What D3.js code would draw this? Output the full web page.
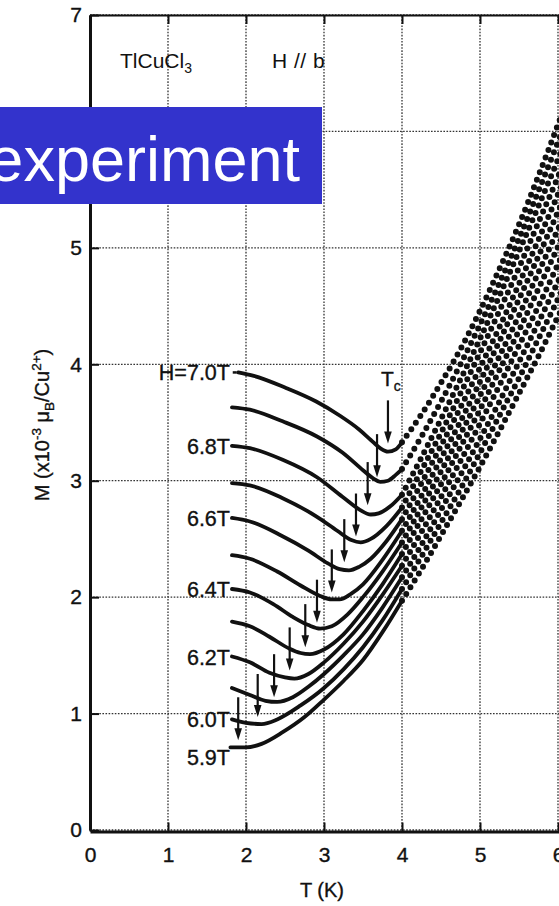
<!DOCTYPE html>
<html><head><meta charset="utf-8">
<script src="https://cdn.jsdelivr.net/npm/d3@7"></script>
<style>
body{margin:0;background:#fff;}
svg{display:block;}
text{font-family:"Liberation Sans",Arial,Helvetica,sans-serif;}
.lbl{stroke:#111;stroke-width:0.35px;}
</style>
</head><body>
<svg id="chart" width="559" height="906"></svg>
<script>
// ---------- DATA ----------
const fields = ["7.0","6.9","6.8","6.7","6.6","6.5","6.4","6.3","6.2","6.1","6.0","5.9"];
const fieldLabels = {"7.0":"H=7.0T","6.8":"6.8T","6.6":"6.6T","6.4":"6.4T","6.2":"6.2T","6.0":"6.0T","5.9":"5.9T"};

// low-temperature (dense, solid-looking) part of each curve
const lowT = [
  [1.9,2.1,2.5,2.9,3.2,3.45,3.6,3.72,3.82,3.92,4.0],
  [1.82,2.05,2.47,2.91,3.24,3.5,3.63,3.72,3.82,3.92,4.0],
  [1.82,2.05,2.47,2.91,3.24,3.46,3.6,3.7,3.85,4.0],
  [1.82,2.05,2.47,2.91,3.17,3.35,3.47,3.6,3.8,4.0],
  [1.82,2.05,2.45,2.8,3.05,3.2,3.32,3.45,3.6,3.8,4.0],
  [1.82,2.05,2.4,2.7,2.95,3.1,3.2,3.35,3.5,3.75,4.0],
  [1.82,2.05,2.35,2.6,2.8,2.95,3.1,3.3,3.5,3.75,4.0],
  [1.82,2.05,2.3,2.55,2.7,2.82,3.0,3.25,3.5,3.75,4.0],
  [1.82,2.05,2.3,2.5,2.62,2.8,3.0,3.25,3.5,3.75,4.0],
  [1.82,2.05,2.25,2.4,2.6,2.8,3.0,3.25,3.5,3.75,4.0],
  [1.82,2.0,2.2,2.4,2.7,3.0,3.25,3.5,3.75,4.0],
  [1.8,2.0,2.2,2.47,2.75,3.0,3.25,3.5,3.76,4.0]
];
const lowM = [
  [3.93,3.90,3.80,3.68,3.56,3.44,3.35,3.28,3.25,3.27,3.33],
  [3.63,3.61,3.51,3.38,3.24,3.09,3.02,2.99,3.00,3.05,3.10],
  [3.30,3.28,3.18,3.03,2.86,2.75,2.71,2.72,2.78,2.88],
  [2.98,2.96,2.85,2.69,2.57,2.49,2.47,2.50,2.61,2.77],
  [2.68,2.65,2.53,2.40,2.29,2.24,2.23,2.26,2.33,2.48,2.67],
  [2.36,2.33,2.22,2.10,2.01,1.98,1.98,2.03,2.11,2.32,2.57],
  [2.07,2.04,1.94,1.83,1.76,1.73,1.75,1.85,2.00,2.22,2.47],
  [1.79,1.75,1.66,1.56,1.52,1.51,1.55,1.68,1.88,2.11,2.37],
  [1.49,1.44,1.35,1.31,1.30,1.34,1.44,1.60,1.79,2.02,2.27],
  [1.22,1.16,1.11,1.10,1.14,1.23,1.34,1.50,1.68,1.91,2.17],
  [0.95,0.92,0.91,0.95,1.07,1.22,1.38,1.57,1.80,2.07],
  [0.71,0.71,0.74,0.84,0.97,1.12,1.28,1.46,1.71,1.97]
];

// high-temperature (sparse, dotted) part of each curve
const dotT = [4.0,4.25,4.5,4.75,5.0,5.25,5.5,5.75,6.0,6.25];
const dotM = [
  [3.33,3.57,3.84,4.13,4.46,4.82,5.20,5.62,6.06,6.53],
  [3.10,3.38,3.68,4.00,4.34,4.70,5.08,5.49,5.91,6.35],
  [2.88,3.20,3.53,3.87,4.22,4.59,4.97,5.36,5.76,6.18],
  [2.77,3.09,3.41,3.75,4.10,4.46,4.83,5.22,5.61,6.02],
  [2.67,2.98,3.30,3.63,3.97,4.32,4.69,5.07,5.46,5.86],
  [2.57,2.87,3.19,3.51,3.85,4.20,4.56,4.93,5.31,5.70],
  [2.47,2.77,3.08,3.40,3.73,4.07,4.42,4.79,5.16,5.54],
  [2.37,2.67,2.97,3.29,3.61,3.95,4.29,4.65,5.01,5.39],
  [2.27,2.56,2.86,3.17,3.49,3.82,4.16,4.50,4.86,5.23],
  [2.17,2.45,2.75,3.05,3.36,3.68,4.02,4.36,4.71,5.07],
  [2.07,2.35,2.64,2.93,3.24,3.56,3.88,4.22,4.56,4.91],
  [1.97,2.24,2.53,2.82,3.12,3.43,3.75,4.07,4.41,4.75]
];

// transition temperatures (arrow tips)
const tcT = [3.82,3.68,3.56,3.41,3.26,3.10,2.91,2.76,2.56,2.36,2.15,1.90];
const tcM = [3.32,3.03,2.79,2.52,2.30,2.04,1.78,1.57,1.37,1.14,0.97,0.77];

const xTicks = [0,1,2,3,4,5,6];
const yTicks = [0,1,2,3,4,5,6,7];

// ---------- CHART ----------
const svg = d3.select("#chart");
const x = d3.scaleLinear().domain([0,7]).range([90,636]);
const y = d3.scaleLinear().domain([0,7]).range([830,15]);
const ink = "#111";

// grid
const grid = svg.append("g").attr("stroke","#333").attr("stroke-width",1.3).attr("stroke-dasharray","1.6,1.5");
xTicks.forEach(t=>grid.append("line").attr("x1",x(t)).attr("x2",x(t)).attr("y1",y(0)).attr("y2",y(7)));
yTicks.forEach(m=>grid.append("line").attr("x1",x(0)).attr("x2",x(7)).attr("y1",y(m)).attr("y2",y(m)));

// axes
const axB = svg.append("g").attr("transform",`translate(0,${y(0)+1.5})`)
  .call(d3.axisBottom(x).tickValues(xTicks).tickSize(-9).tickSizeOuter(0).tickPadding(16).tickFormat(d3.format("d")));
const axL = svg.append("g").attr("transform",`translate(${x(0)},0)`)
  .call(d3.axisLeft(y).tickValues(yTicks).tickSize(-9).tickSizeOuter(0).tickPadding(8).tickFormat(d3.format("d")));
const axT = svg.append("g").attr("transform",`translate(0,${y(7)})`)
  .call(d3.axisTop(x).tickValues(xTicks).tickSize(-9).tickSizeOuter(0).tickFormat(""));
[axB,axL,axT].forEach(a=>{
  a.selectAll("path.domain").attr("stroke",ink);
  a.selectAll(".tick line").attr("stroke",ink).attr("stroke-width",2);
  a.selectAll(".tick text").attr("fill",ink).attr("class","lbl").style("font-size","21px");
});
axB.select("path.domain").attr("stroke-width",3);
axL.select("path.domain").attr("stroke-width",3);
axT.select("path.domain").attr("stroke-width",2);

// axis titles
svg.append("text").attr("x",322).attr("y",897).attr("text-anchor","middle").attr("class","lbl")
  .style("font-size","20px").attr("fill",ink).text("T (K)");
const yl = svg.append("text").attr("transform","translate(49,425) rotate(-90)").attr("class","lbl")
  .attr("text-anchor","middle").style("font-size","20px").attr("fill",ink);
yl.append("tspan").text("M (x10");
yl.append("tspan").attr("dy",-8).style("font-size","13.5px").text("-3");
yl.append("tspan").attr("dy",8).text(" \u03bc");
yl.append("tspan").attr("dy",5).style("font-size","13.5px").text("B");
yl.append("tspan").attr("dy",-5).text("/Cu");
yl.append("tspan").attr("dy",-8).style("font-size","13.5px").text("2+");
yl.append("tspan").attr("dy",8).text(")");

// curves
const line = d3.line().x(d=>x(d[0])).y(d=>y(d[1])).curve(d3.curveMonotoneX);
fields.forEach((f,i)=>{
  const low = lowT[i].map((t,j)=>[t,lowM[i][j]]);
  svg.append("path").attr("d",line(low)).attr("fill","none").attr("stroke",ink)
    .attr("stroke-width",3.8).attr("stroke-linecap","round");
  const hi = dotT.map((t,j)=>[t,dotM[i][j]]);
  svg.append("path").attr("d",line(hi)).attr("fill","none").attr("stroke",ink)
    .attr("stroke-width",6).attr("stroke-linecap","round").attr("stroke-dasharray","0 8");
});

// arrows marking Tc
const arrowLen = 0.37;
tcT.forEach((t,i)=>{
  const xt = x(t), yt = y(tcM[i]), y0 = y(tcM[i]+arrowLen);
  svg.append("line").attr("x1",xt).attr("x2",xt).attr("y1",y0).attr("y2",yt-8)
    .attr("stroke",ink).attr("stroke-width",2.2);
  svg.append("path").attr("d",`M${xt-3.8},${yt-12}L${xt+3.8},${yt-12}L${xt},${yt}Z`).attr("fill",ink);
});

// field labels
fields.forEach((f,i)=>{
  if(!fieldLabels[f]) return;
  const extra = f==="5.9" ? 10 : 0;
  svg.append("text").attr("x",x(1.82)-2).attr("y",y(lowM[i][0])+8+extra).attr("class","lbl")
    .attr("text-anchor","end").style("font-size","21.5px").attr("fill",ink).text(fieldLabels[f]);
});
// small dash before H=7.0T curve
svg.append("line").attr("x1",x(1.83)).attr("x2",x(1.88)).attr("y1",y(lowM[0][0])).attr("y2",y(lowM[0][0])).attr("stroke",ink).attr("stroke-width",2.5);

// Tc label
const tcl = svg.append("text").attr("x",x(tcT[0])-7).attr("y",y(tcM[0]+arrowLen)-14).attr("class","lbl").style("font-size","21px").attr("fill",ink);
tcl.append("tspan").text("T");
tcl.append("tspan").attr("dy",5).style("font-size","14px").text("c");

// top annotations
const t1 = svg.append("text").attr("x",120).attr("y",68).style("font-size","21px").attr("fill",ink);
t1.append("tspan").text("TlCuCl");
t1.append("tspan").attr("dy",5).style("font-size","14px").text("3");
svg.append("text").attr("x",272).attr("y",68).style("font-size","21px").style("letter-spacing","0.5px").attr("fill",ink).text("H // b");

// overlay banner
svg.append("rect").attr("x",0).attr("y",107).attr("width",322).attr("height",97).attr("fill","#3333cc");
svg.append("text").attr("x",300).attr("y",181).attr("text-anchor","end")
  .style("font-size","63px").attr("fill","#fff").text("experiment");
</script>
</body></html>
